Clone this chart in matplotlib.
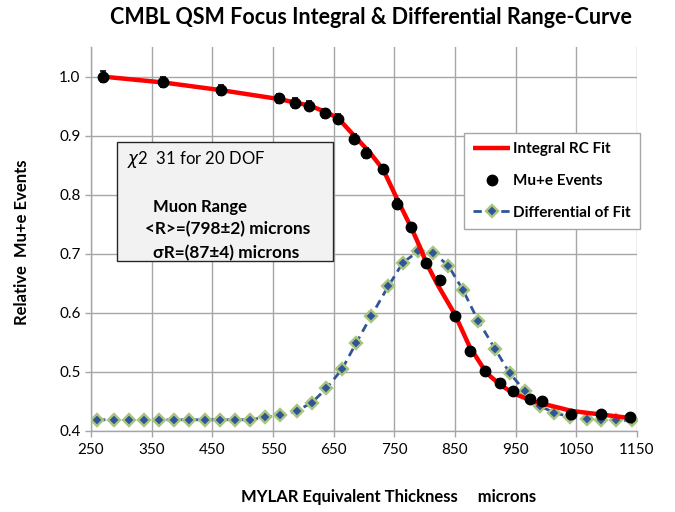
# CMBL QSM focus: integral range curve fit, measured mu+e events, and differential of the fit
import matplotlib
matplotlib.use("Agg")
import matplotlib.pyplot as plt
from matplotlib.patches import Rectangle

plt.rcParams['font.family'] = ['Lato', 'DejaVu Sans']

# DATA
# measured Mu+e events
mu_x = [270, 369, 465, 560, 586, 609, 635, 657, 683, 704, 731, 755, 778,
        802, 826, 850, 875, 899, 924, 945, 973, 994, 1042, 1090, 1139]
mu_y = [1.000, 0.991, 0.977, 0.963, 0.955, 0.951, 0.938, 0.929, 0.895, 0.871,
        0.844, 0.785, 0.746, 0.685, 0.656, 0.595, 0.536, 0.501, 0.482, 0.467,
        0.455, 0.450, 0.429, 0.428, 0.423]
mu_err = [0.009, 0.009, 0.008, 0.008, 0.008, 0.008, 0.008, 0.008, 0.008, 0.008,
          0.007, 0.007, 0.007, 0.007, 0.007, 0.006, 0.006, 0.006, 0.006, 0.005,
          0.005, 0.005, 0.005, 0.005, 0.005]

# integral RC fit (red curve)
fit_x = [270, 370, 465, 560, 610, 635, 657, 682, 710, 732, 754, 778, 792,
         803, 820, 850, 874, 902, 925, 946, 979, 1023, 1042, 1090, 1139]
fit_y = [1.000, 0.990, 0.977, 0.962, 0.951, 0.941, 0.930, 0.902, 0.871, 0.842,
         0.794, 0.744, 0.712, 0.684, 0.650, 0.597, 0.543, 0.498, 0.478, 0.464,
         0.450, 0.439, 0.434, 0.428, 0.422]

# differential of fit (blue dashed with diamonds)
diff_x = [260, 288, 313, 338, 362, 387, 412, 438, 462, 487, 512, 537, 561, 589,
          614, 638, 664, 687, 712, 740, 764, 789, 814, 839, 863, 888, 916, 940,
          965, 990, 1014, 1039, 1067, 1091, 1116, 1141]
diff_y = [0.419, 0.419, 0.419, 0.419, 0.419, 0.419, 0.419, 0.419, 0.419, 0.419,
          0.419, 0.423, 0.427, 0.434, 0.448, 0.472, 0.505, 0.549, 0.595, 0.645,
          0.685, 0.704, 0.702, 0.680, 0.639, 0.587, 0.539, 0.498, 0.468, 0.442,
          0.431, 0.424, 0.420, 0.419, 0.418, 0.418]

x_ticks = [250, 350, 450, 550, 650, 750, 850, 950, 1050, 1150]
y_ticks = [0.4, 0.5, 0.6, 0.7, 0.8, 0.9, 1.0]

W, H = 675, 512
fig = plt.figure(figsize=(W / 100, H / 100), dpi=100)
ax = fig.add_axes([91 / W, 1 - 431 / H, (637 - 91) / W, (431 - 46.5) / H])

grid_col = '#A6A6A6'
ax.set_xlim(250, 1150)
ax.set_ylim(0.4, 1.051)
ax.set_xticks(x_ticks)
ax.set_yticks(y_ticks)
ax.set_yticklabels(['%.1f' % v for v in y_ticks])
ax.grid(True, color=grid_col, linewidth=1.0)
ax.set_axisbelow(True)
for s in ['top', 'right']:
    ax.spines[s].set_visible(False)
for s in ['left', 'bottom']:
    ax.spines[s].set_color(grid_col)
    ax.spines[s].set_linewidth(1.0)
ax.tick_params(axis='both', colors=grid_col, labelcolor='black', labelsize=11,
               length=4, width=1.0, direction='out')
ax.tick_params(axis='x', pad=5)

# curves
ax.plot(diff_x, diff_y, linestyle=(0, (3, 2)), color='#2F5597', linewidth=2.0,
        marker='D', markersize=6, markerfacecolor='#2F5597',
        markeredgecolor='#A9C47F', markeredgewidth=1.7,
        label='Differential of Fit', zorder=3)
ax.plot(fit_x, fit_y, color='#FF0000', linewidth=3.2, label='Integral RC Fit',
        zorder=4, solid_capstyle='butt')
ax.errorbar(mu_x, mu_y, yerr=mu_err, fmt='none', ecolor='black', elinewidth=1.2,
            capsize=2.5, capthick=1.2, zorder=5)
ax.plot(mu_x, mu_y, linestyle='none', marker='o', markersize=7.5,
        color='black', label='Mu+e Events', zorder=6)

# legend
handles, labels = ax.get_legend_handles_labels()
order = [labels.index('Integral RC Fit'), labels.index('Mu+e Events'),
         labels.index('Differential of Fit')]
leg = ax.legend([handles[i] for i in order], [labels[i] for i in order],
                loc='upper left', bbox_to_anchor=(464 / W, 1 - 133 / H),
                bbox_transform=fig.transFigure, borderaxespad=0,
                frameon=True, fancybox=False, edgecolor='#A6A6A6',
                framealpha=1, handlelength=2.4, handletextpad=0.2,
                labelspacing=1.15, borderpad=0.62,
                prop={'weight': 'bold', 'size': 11})
leg.get_frame().set_linewidth(1.0)

# fit result box
box = Rectangle((117 / W, 1 - 261 / H), (333 - 117) / W, (261 - 141.5) / H,
                transform=fig.transFigure, facecolor='#F2F2F2',
                edgecolor='#262626', linewidth=1.0, zorder=7)
fig.patches.append(box)
fig.text(127 / W, 1 - 159 / H, r'$\chi$2  31 for 20 DOF', fontsize=12,
         ha='left', va='center', zorder=8)
fig.text(153 / W, 1 - 207 / H, 'Muon Range', fontsize=12, fontweight='bold',
         ha='left', va='center', zorder=8)
fig.text(145 / W, 1 - 229 / H, '<R>=(798±2) microns', fontsize=12.4,
         fontweight='bold', ha='left', va='center', zorder=8)
fig.text(153 / W, 1 - 253 / H, 'σR=(87±4) microns', fontsize=12.4,
         fontweight='bold', ha='left', va='center', zorder=8)

# titles and axis labels
fig.text(371 / W, 1 - 17 / H, 'CMBL QSM Focus Integral & Differential Range-Curve',
         fontsize=15.5, fontweight='bold', ha='center', va='center')
fig.text(389 / W, 1 - 497 / H, 'MYLAR Equivalent Thickness     microns',
         fontsize=12, fontweight='bold', ha='center', va='center')
fig.text(22 / W, 1 - 242 / H, 'Relative  Mu+e Events', fontsize=12,
         fontweight='bold', ha='center', va='center', rotation=90)

fig.savefig('out.png', dpi=100)
